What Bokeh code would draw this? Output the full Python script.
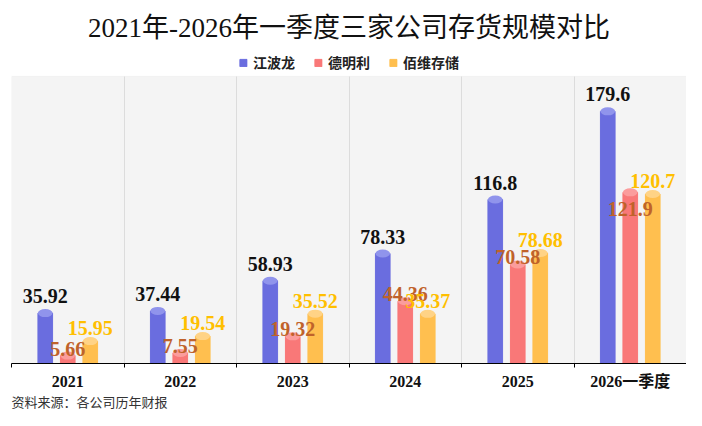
from bokeh.plotting import figure
from bokeh.models import (Range1d, FixedTicker, Legend, LegendItem, Title, ColumnDataSource,
                          BoxAnnotation)
from bokeh.core.properties import value
from bokeh.embed import file_html
from bokeh.resources import INLINE

years = ["2021", "2022", "2023", "2024", "2025", "2026一季度"]
companies = ["江波龙", "德明利", "佰维存储"]
jiangbolong = [35.92, 37.44, 58.93, 78.33, 116.8, 179.6]
demingli = [5.66, 7.55, 19.32, 44.36, 70.58, 121.9]
baiwei = [15.95, 19.54, 35.52, 35.37, 78.68, 120.7]

SERIF = "'Liberation Serif', 'Noto Sans CJK SC', serif"

bar_colors = ["#6a6ddf", "#f97878", "#ffbf4f"]
cap_colors = ["#9094ec", "#fb9c9c", "#ffd386"]
label_colors = ["#111111", "#c0622a", "#ffbf00"]
offsets = [-0.2, 0.0, 0.2]
label_dy = [-17, -7, -13]
bar_w = 0.13
box_top = 204.5   # top of the grey plotting panel
y_top = 221.5     # leaves room for the legend above the panel

p = figure(width=686, height=410, x_range=Range1d(0, len(years)), y_range=Range1d(0, y_top),
           output_backend="svg", toolbar_location=None, tools="",
           min_border_left=11, min_border_right=0, min_border_bottom=0, min_border_top=0)

p.title.text = "2021年-2026年一季度三家公司存货规模对比"
p.title.align = "center"
p.title.text_font = SERIF
p.title.text_font_size = "27px"
p.title.text_font_style = "normal"
p.title.text_color = "#111111"
p.title.standoff = 20

p.background_fill_color = "white"
p.border_fill_color = "white"
p.outline_line_color = None

p.add_layout(BoxAnnotation(left=0, right=len(years), bottom=0, top=box_top,
                           fill_color="#f4f4f4", fill_alpha=1,
                           line_color="#e4e4e4", line_width=1, level="image"))

p.yaxis.visible = False
p.ygrid.visible = False
p.xgrid.ticker = FixedTicker(ticks=list(range(1, len(years))))
p.xgrid.grid_line_color = "#dcdcdc"
p.xgrid.cross_bounds = (0, box_top)

p.xaxis.ticker = FixedTicker(ticks=[i + 0.5 for i in range(len(years))],
                             minor_ticks=list(range(len(years) + 1)))
p.xaxis.major_label_overrides = {i + 0.5: y for i, y in enumerate(years)}
p.xaxis.major_tick_line_color = None
p.xaxis.minor_tick_line_color = "black"
p.xaxis.minor_tick_in = 0
p.xaxis.minor_tick_out = 4
p.xaxis.axis_line_color = "black"
p.xaxis.axis_line_width = 1.2
p.xaxis.major_label_text_font = SERIF
p.xaxis.major_label_text_font_size = "16px"
p.xaxis.major_label_text_font_style = "bold"
p.xaxis.major_label_text_color = "#111111"
p.xaxis.major_label_standoff = 3

series = [jiangbolong, demingli, baiwei]
sources = []
items = []
for k, vals in enumerate(series):
    xs = [i + 0.5 + offsets[k] for i in range(len(years))]
    dy = [label_dy[k]] * len(vals)
    if k == 1:
        dy[-1] = 17  # 121.9 sits inside the bar in the original
    src = ColumnDataSource(data=dict(x=xs, top=vals, label=[str(v) for v in vals], dy=dy))
    sources.append(src)
    r = p.vbar(x="x", top="top", width=bar_w, source=src, color=bar_colors[k])
    p.ellipse(x="x", y="top", width=bar_w, height=8, height_units="screen",
              source=src, fill_color=cap_colors[k], line_color=None)
    items.append(LegendItem(label=companies[k], renderers=[r]))

for k, src in enumerate(sources):
    p.text(x="x", y="top", text="label", source=src, y_offset="dy",
           text_align="center", text_baseline="middle",
           text_font=value(SERIF), text_font_size="20px", text_font_style="bold",
           text_color=label_colors[k])

legend = Legend(items=items, orientation="horizontal", location="top",
                glyph_width=9, glyph_height=9, label_standoff=6, spacing=18,
                label_height=16, padding=0, margin=0,
                label_text_font=SERIF, label_text_font_size="14px",
                label_text_font_style="bold", label_text_color="#222222",
                border_line_color=None, background_fill_alpha=0)
p.add_layout(legend)

p.add_layout(Title(text="资料来源：各公司历年财报", align="left", text_font=SERIF,
                   text_font_size="13px", text_font_style="normal", standoff=1,
                   text_color="#333333"), "below")

open("out.html", "w").write(file_html(p, INLINE))
